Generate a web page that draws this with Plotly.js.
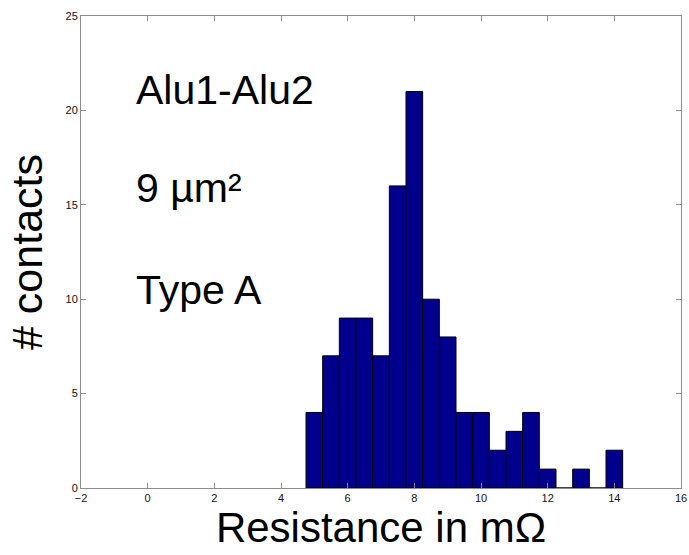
<!DOCTYPE html>
<html>
<head>
<meta charset="utf-8">
<script src="https://cdn.plot.ly/plotly-3.0.1.min.js"></script>
<style>html,body{margin:0;padding:0;background:#fff;}#chart{width:689px;height:555px;}</style>
</head>
<body>
<div id="chart"></div>
<script>
// Bin centers (mΩ) and counts
const binCenters = [5, 5.5, 6, 6.5, 7, 7.5, 8, 8.5, 9, 9.5, 10, 10.5, 11, 11.5, 12, 12.5, 13, 13.5, 14];
const counts     = [4, 7, 9, 9, 7, 16, 21, 10, 8, 4, 4, 2, 3, 4, 1, 0, 1, 0, 2];
const binWidth = 0.5;
const xTicks = [-2, 0, 2, 4, 6, 8, 10, 12, 14, 16];
const yTicks = [0, 5, 10, 15, 20, 25];
const notes = ["Alu1-Alu2", "9 µm²", "Type A"];
const noteY = [21.1, 15.9, 10.5];

const trace = {
  type: 'bar',
  x: binCenters,
  y: counts,
  width: counts.map(() => binWidth),
  marker: {color: '#00008c', line: {color: '#000000', width: 1}},
  hoverinfo: 'x+y'
};

const axisCommon = {
  showgrid: false,
  zeroline: false,
  showline: true,
  linecolor: '#8c8c8c',
  linewidth: 1,
  mirror: 'ticks',
  ticks: 'inside',
  ticklen: 5,
  tickcolor: '#8c8c8c',
  tickfont: {family: 'Liberation Sans, Arial, sans-serif', size: 11, color: '#111'},
  fixedrange: true
};

const layout = {
  width: 689,
  height: 555,
  margin: {l: 81, r: 8, t: 16, b: 67},
  paper_bgcolor: '#ffffff',
  plot_bgcolor: '#ffffff',
  showlegend: false,
  bargap: 0,
  xaxis: Object.assign({}, axisCommon, {
    range: [-2, 16],
    tickvals: xTicks,
    ticktext: xTicks.map(v => v < 0 ? '\u2212' + Math.abs(v) : String(v)),
    title: {text: 'Resistance in mΩ', font: {family: 'Liberation Sans, Arial, sans-serif', size: 42, color: '#000'}, standoff: 8}
  }),
  yaxis: Object.assign({}, axisCommon, {
    range: [0, 25],
    tickvals: yTicks,
    title: {text: '# contacts', font: {family: 'Liberation Sans, Arial, sans-serif', size: 43, color: '#000'}, standoff: 9}
  }),
  annotations: notes.map((t, i) => ({
    text: t,
    xref: 'x', yref: 'y',
    x: -0.4, y: noteY[i],
    xanchor: 'left', yanchor: 'middle',
    showarrow: false,
    font: {family: 'Liberation Sans, Arial, sans-serif', size: 41, color: '#000'}
  }))
};

Plotly.newPlot('chart', [trace], layout, {displayModeBar: false, staticPlot: true});
</script>
</body>
</html>
